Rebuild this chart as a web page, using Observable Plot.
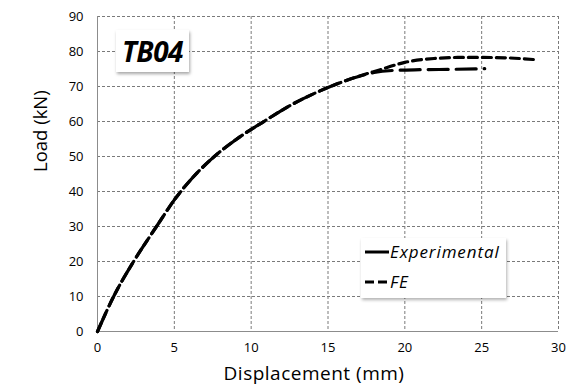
<!DOCTYPE html>
<html>
<head>
<meta charset="utf-8">
<script src="https://cdn.jsdelivr.net/npm/d3@7"></script>
<script src="https://cdn.jsdelivr.net/npm/@observablehq/plot@0.6"></script>
<style>
  html, body { margin: 0; padding: 0; background: #fff; }
  #wrap { position: relative; width: 572px; height: 390px; font-family: "Open Sans", sans-serif; }
  #tag { position: absolute; left: 116px; top: 30px; width: 73px; height: 42px; background: #fff;
         box-shadow: 1px 2px 3px rgba(0,0,0,0.35); display: flex; align-items: center; justify-content: center;
         font: italic 700 28px "Open Sans", sans-serif; letter-spacing: -0.5px; color: #000; }
  #legend { position: absolute; left: 361px; top: 238px; width: 145px; height: 60px; background: #fff;
            box-shadow: 1px 2px 3px rgba(0,0,0,0.3); font: italic 17px "Open Sans", sans-serif; letter-spacing: 0.9px; color: #000; }
  .row { position: absolute; left: 4px; display: flex; align-items: center; }
  .row svg { margin-right: 1px; }
</style>
</head>
<body>
<div id="wrap"></div>
<script>
// Data
const expDisp = [0, 1.05, 2.35, 3.84, 5, 6.2, 7.5, 9, 10.9, 12.55, 14.3, 16.5, 18, 19.3, 21, 23, 25.2];
const expLoad = [0, 10, 20, 30, 37.6, 44, 49.6, 54.8, 60.2, 64.6, 68.4, 72.2, 74, 74.6, 74.8, 74.9, 75.1];
const feDisp = [0, 1.05, 2.35, 3.84, 5, 6.2, 7.5, 9, 10.9, 12.55, 14.3, 16.5, 18.4, 20, 21.9, 23.5, 25, 26.5, 28.4];
const feLoad = [0, 10, 20, 30, 37.6, 44, 49.6, 54.8, 60.2, 64.6, 68.4, 72.2, 74.8, 76.9, 78, 78.3, 78.3, 78.2, 77.7];
const xTicks = [0, 5, 10, 15, 20, 25, 30];
const yTicks = [0, 10, 20, 30, 40, 50, 60, 70, 80, 90];
const seriesNames = ["Experimental", "FE"];
const tagLabel = "TB04";
const xTitle = "Displacement (mm)";
const yTitle = "Load (kN)";

const expData = expDisp.map((d, i) => ({x: d, y: expLoad[i]}));
const feData = feDisp.map((d, i) => ({x: d, y: feLoad[i]}));

const chart = Plot.plot({
  width: 572,
  height: 390,
  marginLeft: 97,
  marginRight: 14,
  marginTop: 16,
  marginBottom: 59,
  style: {fontFamily: "'Open Sans', sans-serif", fontSize: "13px", color: "#000", background: "#fff", overflow: "visible"},
  x: {domain: [0, 30], label: null},
  y: {domain: [0, 90], label: null},
  marks: [
    Plot.gridX(xTicks.filter(d => d > 0), {stroke: "#7a7a7a", strokeOpacity: 1, strokeWidth: 1, strokeDasharray: "3 2"}),
    Plot.gridY(yTicks.filter(d => d > 0), {stroke: "#7a7a7a", strokeOpacity: 1, strokeWidth: 1, strokeDasharray: "3 2"}),
    Plot.ruleX([0], {stroke: "#8c8c8c", strokeWidth: 1}),
    Plot.ruleY([0], {stroke: "#8c8c8c", strokeWidth: 1}),
    Plot.line(feData, {x: "x", y: "y", curve: "monotone-x", stroke: "#000", strokeWidth: 3.2, strokeDasharray: "9 5"}),
    Plot.line(expData, {x: "x", y: "y", curve: "monotone-x", stroke: "#000", strokeWidth: 3.2, strokeDasharray: "20 8"}),
    Plot.axisX(xTicks, {tickSize: 0, tickPadding: 11, fontSize: 13, label: null}),
    Plot.axisY(yTicks, {tickSize: 0, tickPadding: 14, fontSize: 13, label: null}),
    Plot.text([xTitle], {frameAnchor: "bottom", dx: -14, dy: 48, fontSize: 19, text: d => d}),
    Plot.text([yTitle], {frameAnchor: "left", dx: -56, dy: -2, rotate: -90, fontSize: 18.5, text: d => d})
  ]
});

const wrap = document.getElementById("wrap");
wrap.appendChild(chart);
chart.querySelectorAll("text").forEach(t => { if (t.textContent === xTitle) t.setAttribute("letter-spacing", "0.5"); });

const tag = document.createElement("div");
tag.id = "tag";
tag.textContent = tagLabel;
wrap.appendChild(tag);

const legend = document.createElement("div");
legend.id = "legend";
legend.innerHTML = `
  <div class="row" style="top:2px"><svg width="24" height="10"><line x1="0" y1="5" x2="24" y2="5" stroke="#000" stroke-width="3"/></svg><span>${seriesNames[0]}</span></div>
  <div class="row" style="top:32px"><svg width="24" height="10"><line x1="0" y1="5" x2="24" y2="5" stroke="#000" stroke-width="3" stroke-dasharray="9,4"/></svg><span>${seriesNames[1]}</span></div>`;
wrap.appendChild(legend);
</script>
</body>
</html>
